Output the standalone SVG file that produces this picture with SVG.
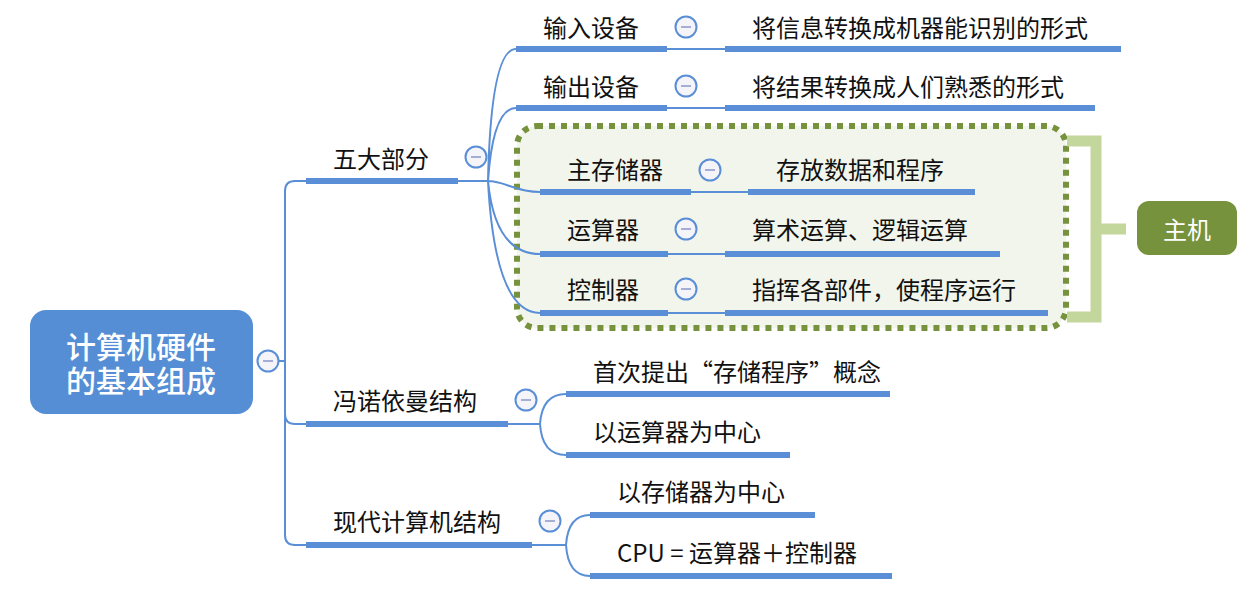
<svg xmlns="http://www.w3.org/2000/svg" width="1255" height="601" viewBox="0 0 1255 601">
<style>
.t{font-family:"Noto Sans CJK SC","Liberation Sans",sans-serif;font-size:24px;fill:#111;dominant-baseline:central}
.bar{stroke:#5A8ED6;stroke-width:6;fill:none}
.ln{stroke:#5A8ED6;stroke-width:2;fill:none}
</style>
<defs>
<g id="col"><circle r="10.5" cx="0" cy="0" fill="#F4F4F9" stroke="#5A8ED6" stroke-width="2"/><line x1="-5" y1="0" x2="5" y2="0" stroke="#A3ADD6" stroke-width="2"/></g>
</defs>
<rect width="1255" height="601" fill="#fff"/>

<g id="group-host">
<rect x="517" y="126" width="549" height="202" rx="20" fill="#F2F5EB" stroke="#77923C" stroke-width="6" stroke-dasharray="6 6"/>
</g>

<g id="connectors">
<path class="ln" d="M278,361 H285 M306,181 H295 Q285,181 285,191 V535 Q285,545 295,545 H306 M285,414 Q285,424 295,424 H306"/>
<path class="ln" d="M458,181 H488 M488,181 Q491,49 516,49 M488,181 Q493,108 516,108 M488,181 C505,181 515,192 540,192 M488,181 Q495,254 540,254 M488,181 Q495,313 540,313"/>
<path class="ln" d="M667,49 H725 M667,108 H725 M691,192 H748 M668,254 H725 M668,313 H725"/>
<path class="ln" d="M508,424 H540 M540,424 Q542,394 566,394 M540,424 Q542,455 566,455"/>
<path class="ln" d="M532,545 H566 M566,545 Q568,515 590,515 M566,545 Q568,576 590,576"/>
<path d="M1067,141 H1096 V317 H1067 M1096,229 H1126" fill="none" stroke="#C3D69B" stroke-width="11"/>
</g>

<g id="root">
<rect x="30" y="310" width="223" height="104" rx="16" fill="#558ED5"/>
<text text-anchor="middle" style="font-family:'Noto Sans CJK SC',sans-serif;font-size:30px;fill:#fff;font-weight:500;dominant-baseline:central"><tspan x="141" y="345">计算机硬件</tspan><tspan x="141" y="379">的基本组成</tspan></text>
<use href="#col" x="268" y="361"/>
</g>

<g id="n-wudabufen">
<text class="t" x="333" y="157">五大部分</text>
<line class="bar" x1="306" y1="181" x2="458" y2="181"/>
<use href="#col" x="476" y="157"/>
</g>

<g id="n-input">
<text class="t" x="543" y="26">输入设备</text>
<line class="bar" x1="516" y1="49" x2="667" y2="49"/>
<use href="#col" x="686" y="27"/>
</g>
<g id="n-input-desc">
<text class="t" x="752" y="26">将信息转换成机器能识别的形式</text>
<line class="bar" x1="725" y1="49" x2="1121" y2="49"/>
</g>

<g id="n-output">
<text class="t" x="543" y="85">输出设备</text>
<line class="bar" x1="516" y1="108" x2="667" y2="108"/>
<use href="#col" x="686" y="86"/>
</g>
<g id="n-output-desc">
<text class="t" x="752" y="85">将结果转换成人们熟悉的形式</text>
<line class="bar" x1="725" y1="108" x2="1095" y2="108"/>
</g>

<g id="n-memory">
<text class="t" x="567" y="168">主存储器</text>
<line class="bar" x1="540" y1="192" x2="691" y2="192"/>
<use href="#col" x="710" y="170"/>
</g>
<g id="n-memory-desc">
<text class="t" x="776" y="168">存放数据和程序</text>
<line class="bar" x1="748" y1="192" x2="975" y2="192"/>
</g>

<g id="n-alu">
<text class="t" x="567" y="228">运算器</text>
<line class="bar" x1="540" y1="254" x2="668" y2="254"/>
<use href="#col" x="686" y="229"/>
</g>
<g id="n-alu-desc">
<text class="t" x="752" y="228">算术运算、逻辑运算</text>
<line class="bar" x1="725" y1="254" x2="1000" y2="254"/>
</g>

<g id="n-cu">
<text class="t" x="567" y="288">控制器</text>
<line class="bar" x1="540" y1="313" x2="668" y2="313"/>
<use href="#col" x="686" y="289"/>
</g>
<g id="n-cu-desc">
<text class="t" x="752" y="288">指挥各部件，使程序运行</text>
<line class="bar" x1="725" y1="313" x2="1048" y2="313"/>
</g>

<g id="n-host">
<rect x="1137" y="201" width="100" height="54" rx="12" fill="#77923C"/>
<text x="1187" y="228" text-anchor="middle" style="font-family:'Noto Sans CJK SC',sans-serif;font-size:24px;fill:#fff;dominant-baseline:central">主机</text>
</g>

<g id="n-vonneumann">
<text class="t" x="333" y="399">冯诺依曼结构</text>
<line class="bar" x1="306" y1="424" x2="508" y2="424"/>
<use href="#col" x="526" y="400"/>
</g>
<g id="n-vn-1">
<text class="t" x="593" y="370">首次提出“存储程序”概念</text>
<line class="bar" x1="566" y1="394" x2="890" y2="394"/>
</g>
<g id="n-vn-2">
<text class="t" x="593" y="430">以运算器为中心</text>
<line class="bar" x1="566" y1="455" x2="790" y2="455"/>
</g>

<g id="n-modern">
<text class="t" x="333" y="520">现代计算机结构</text>
<line class="bar" x1="306" y1="545" x2="532" y2="545"/>
<use href="#col" x="550" y="521"/>
</g>
<g id="n-modern-1">
<text class="t" x="617" y="490">以存储器为中心</text>
<line class="bar" x1="590" y1="515" x2="815" y2="515"/>
</g>
<g id="n-modern-2">
<text class="t" x="617" y="551">CPU = 运算器＋控制器</text>
<line class="bar" x1="590" y1="576" x2="892" y2="576"/>
</g>
</svg>
